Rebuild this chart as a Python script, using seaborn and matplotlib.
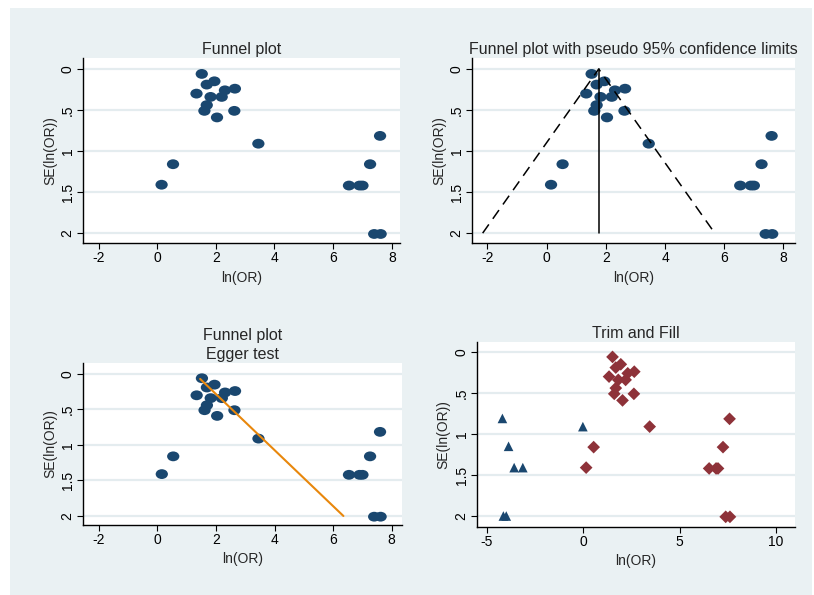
import numpy as np
import pandas as pd
import matplotlib
matplotlib.use("Agg")
import matplotlib.pyplot as plt
from matplotlib.path import Path
from matplotlib.transforms import Affine2D
from matplotlib.patches import Rectangle
import seaborn as sns

# study estimates
ln_or = [1.52, 1.95, 1.69, 1.34, 2.31, 2.65, 1.82, 2.20, 1.69, 1.61, 2.63, 2.04,
         3.45, 0.54, 0.15, 7.60, 7.26, 6.54, 6.90, 7.00, 7.40, 7.62]
se_ln_or = [0.06, 0.15, 0.19, 0.30, 0.26, 0.24, 0.34, 0.34, 0.44, 0.51, 0.51, 0.59,
            0.91, 1.16, 1.41, 0.815, 1.16, 1.42, 1.42, 1.42, 2.01, 2.01]

# filled (imputed) studies from trim and fill
fill_ln_or = [-4.20, -3.88, -3.59, -3.14, -0.02, -4.15, -4.00]
fill_se = [0.81, 1.15, 1.41, 1.41, 0.91, 2.0, 2.0]

# pooled estimate and pseudo 95% limits
pooled = 1.76
funnel_se = [0.0, 2.0]

# Egger regression line end points
egger_x = [1.46, 6.35]
egger_y = [0.07, 2.0]

yticks = [0, 0.5, 1, 1.5, 2]
yticklabels = ["0", ".5", "1", "1.5", "2"]

navy = "#1A476F"
maroon = "#8E3239"
orange = "#E8870C"
grid_col = "#E4ECEF"

sns.set_theme(style="white")
plt.rcParams["font.family"] = ["Liberation Sans", "DejaVu Sans"]

df = pd.DataFrame({"x": ln_or, "se": se_ln_or})
df_fill = pd.DataFrame({"x": fill_ln_or, "se": fill_se})

ellipse = Path.unit_circle().transformed(Affine2D().scale(1.25, 1.0))

W, H = 814, 595
fig = plt.figure(figsize=(W / 100, H / 100), dpi=100)
fig.patch.set_facecolor("white")
fig.patches.append(Rectangle((10 / W, 0), 802 / W, 1 - 8 / H, transform=fig.transFigure,
                             facecolor="#EAF1F3", edgecolor="none", zorder=-10))

TICK_FS = 10
LAB_FS = 10
TITLE_FS = 11.5


def make_ax(l, r, t, b):
    return fig.add_axes([l / W, 1 - b / H, (r - l) / W, (b - t) / H])


def style(ax, xlim, ylim, xticks, title, ylab_x, xlab_y):
    ax.set_facecolor("white")
    ax.set_xlim(*xlim)
    ax.set_ylim(*ylim)
    ax.set_xticks(xticks)
    ax.set_xticklabels([str(v) for v in xticks], fontsize=TICK_FS)
    ax.set_yticks(yticks)
    ax.set_yticklabels(yticklabels, fontsize=TICK_FS, rotation=90, va="center")
    for s in ["top", "right"]:
        ax.spines[s].set_visible(False)
    for s in ["left", "bottom"]:
        ax.spines[s].set_color("black")
        ax.spines[s].set_linewidth(1.0)
    ax.tick_params(axis="both", length=4, width=0.8, color="black", pad=2,
                   left=True, bottom=True, labelcolor="black")
    ax.yaxis.grid(True, color=grid_col, linewidth=1.6)
    ax.xaxis.grid(False)
    ax.set_axisbelow(True)
    ax.set_title(title, fontsize=TITLE_FS, pad=3)
    ax.set_xlabel("ln(OR)", fontsize=LAB_FS)
    ax.set_ylabel("SE(ln(OR))", fontsize=LAB_FS)
    ax.yaxis.set_label_coords(ylab_x, 0.5)
    ax.xaxis.set_label_coords(0.5, xlab_y)


# top left: plain funnel plot
ax1 = make_ax(83, 400, 58, 243)
sns.scatterplot(data=df, x="x", y="se", ax=ax1, color=navy, marker=ellipse, s=78,
                edgecolor="none", zorder=3)
style(ax1, (-2.53, 8.28), (2.12, -0.134), [-2, 0, 2, 4, 6, 8], "Funnel plot", -0.082, -0.15)

# top right: funnel with pseudo 95% limits
ax2 = make_ax(472, 795, 58, 243)
sns.scatterplot(data=df, x="x", y="se", ax=ax2, color=navy, marker=ellipse, s=78,
                edgecolor="none", zorder=3)
se_arr = np.array(funnel_se)
lim = pd.DataFrame({"x": np.concatenate([pooled - 1.96 * se_arr[::-1], pooled + 1.96 * se_arr]),
                    "se": np.concatenate([se_arr[::-1], se_arr])})
sns.lineplot(data=lim, x="x", y="se", ax=ax2, sort=False, estimator=None, color="black",
             linewidth=1.1, linestyle=(0, (7, 4.5)), zorder=4)
vert = pd.DataFrame({"x": [pooled, pooled], "se": funnel_se})
sns.lineplot(data=vert, x="x", y="se", ax=ax2, sort=False, estimator=None, color="black",
             linewidth=1.1, zorder=4)
style(ax2, (-2.52, 8.39), (2.12, -0.134), [-2, 0, 2, 4, 6, 8],
      "Funnel plot with pseudo 95% confidence limits", -0.08, -0.15)

# bottom left: Egger test
ax3 = make_ax(83, 402, 363, 525)
sns.scatterplot(data=df, x="x", y="se", ax=ax3, color=navy, marker=ellipse, s=78,
                edgecolor="none", zorder=3)
eg = pd.DataFrame({"x": egger_x, "se": egger_y})
sns.lineplot(data=eg, x="x", y="se", ax=ax3, sort=False, estimator=None, color=orange,
             linewidth=1.5, zorder=4)
style(ax3, (-2.54, 8.35), (2.127, -0.155), [-2, 0, 2, 4, 6, 8],
      "Funnel plot\nEgger test", -0.082, -0.165)
ax3.title.set_linespacing(1.35)

# bottom right: trim and fill
ax4 = make_ax(477, 795, 342, 527)
sns.scatterplot(data=df_fill, x="x", y="se", ax=ax4, color=navy, marker="^", s=48,
                edgecolor="none", zorder=3)
sns.scatterplot(data=df, x="x", y="se", ax=ax4, color=maroon, marker="D", s=42,
                edgecolor="none", zorder=3)
style(ax4, (-5.52, 11.0), (2.134, -0.122), [-5, 0, 5, 10], "Trim and Fill", -0.085, -0.145)

fig.savefig("out.png", dpi=100, facecolor=fig.get_facecolor())
